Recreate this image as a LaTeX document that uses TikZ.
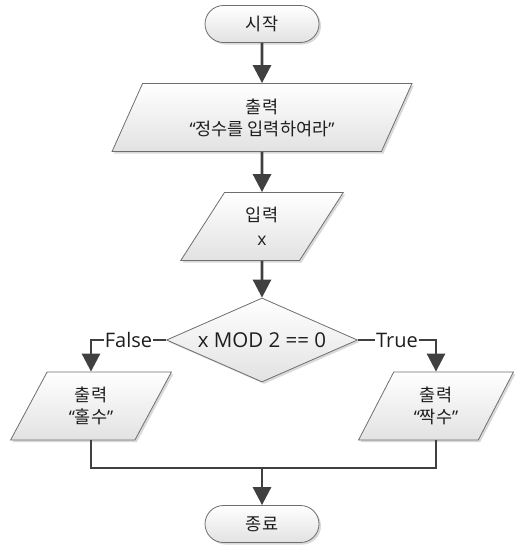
\documentclass[tikz,border=0pt]{standalone}
\usepackage{fontspec}
\setmainfont{Noto Sans CJK KR}
\newfontfamily\latin{Open Sans}
\usetikzlibrary{positioning,shapes.geometric,shapes.misc,shadows,arrows.meta}

\definecolor{boxline}{HTML}{6E6E6E}
\definecolor{flowline}{HTML}{404040}
\definecolor{boxfill}{HTML}{E2E2E2}
\definecolor{txt}{HTML}{1E1E1E}
\newcommand{\kq}[1]{{\latin “}#1{\latin ”}}

\begin{document}
\begin{tikzpicture}[x=1pt,y=-1pt,
base/.style={draw=boxline,line width=0.8pt,top color=white,bottom color=boxfill,
  drop shadow={shadow xshift=2pt,shadow yshift=-2pt,fill=black!60,opacity=0.25},
  text=txt,font=\fontsize{17.5}{22}\selectfont,align=center,inner sep=0pt},
term/.style={base,rounded rectangle,minimum width=114pt,minimum height=37pt},
io/.style={base,trapezium,trapezium left angle=64,trapezium right angle=116,
  trapezium stretches=true,minimum height=68pt},
decide/.style={base,diamond,aspect=2.27,minimum width=191pt,minimum height=84pt,
  font=\latin\fontsize{20.5}{22}\selectfont},
flow/.style={draw=flowline,line width=2.8pt},
arr/.style={flow,-{Triangle[width=18pt,length=18pt]}},
lbl/.style={fill=white,inner sep=1pt,text=txt,font=\latin\fontsize{20}{22}\selectfont}]

\useasboundingbox (0,0) rectangle (515,554);

\node[term] (start) at (262,24) {시작};
\node[io,minimum width=300pt] (msg) at (262,117.5) {출력\\\kq{정수를 입력하여라}};
\node[io,minimum width=163pt] (input) at (262,226.5) {입력\\[2pt]{\latin x}};
\node[decide] (check) at (262,340) {x MOD 2 == 0};
\node[io,minimum width=162pt] (odd) at (91,406) {출력\\\kq{홀수}};
\node[io,minimum width=156pt] (even) at (436,406) {출력\\\kq{짝수}};
\node[term] (stop) at (262,524) {종료};
\coordinate (join) at (262,468);

\draw[arr] (start) -- (msg);
\draw[arr] (msg) -- (input);
\draw[arr] (input) -- (check);
\draw[arr] (check.west) -| node[lbl,pos=0.25] {False} (odd);
\draw[arr] (check.east) -| node[lbl,pos=0.25] {True} (even);
\draw[flow] (odd) |- (join) -| (even);
\draw[arr] (join) -- (stop);

\end{tikzpicture}
\end{document}
